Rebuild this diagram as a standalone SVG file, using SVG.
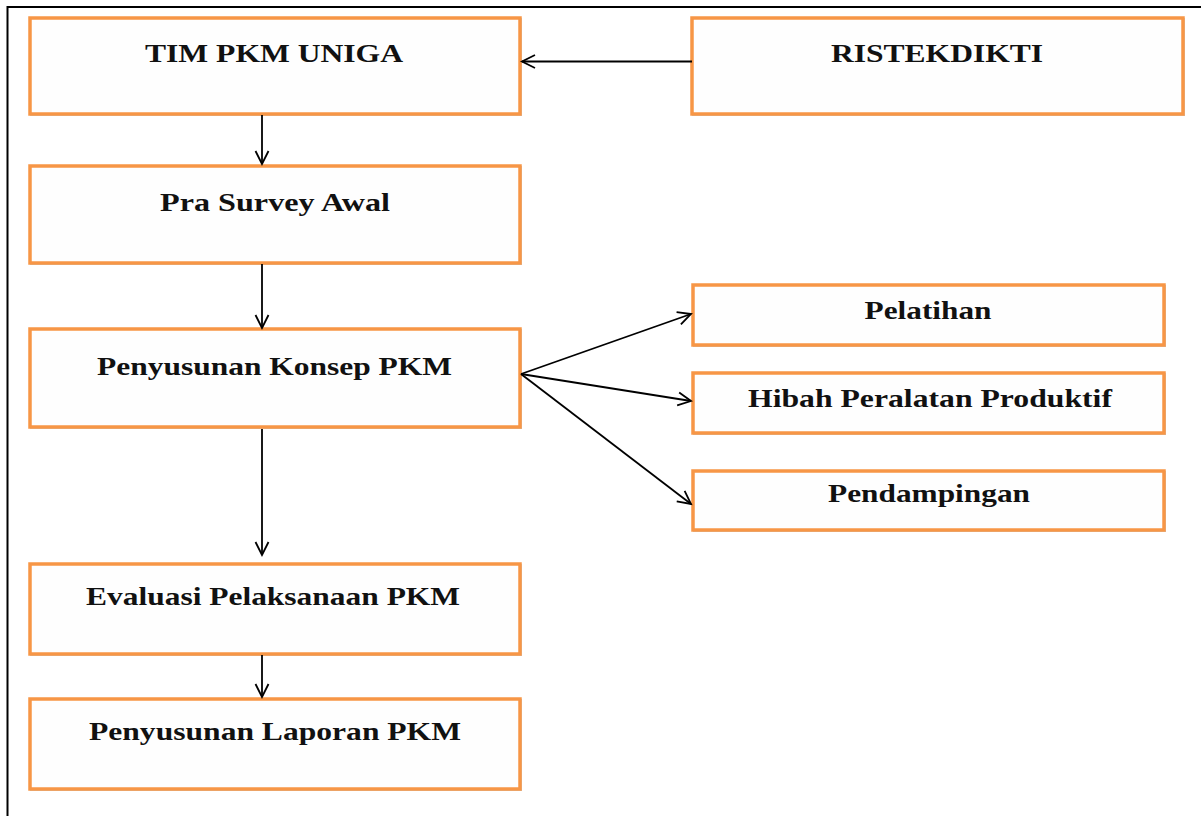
<svg xmlns="http://www.w3.org/2000/svg" width="1201" height="816" viewBox="0 0 1201 816">
<style>
.box{fill:#fefefe;stroke:#F79646;stroke-width:3.5}
.sh{fill:none;stroke:#c8c8c8;stroke-width:2}
.lbl{font-family:"Liberation Serif","Times New Roman",serif;font-weight:bold;font-size:25.5px;fill:#111;text-anchor:middle}
.conn{fill:none;stroke:#000;stroke-width:1.8}
</style>
<defs>
<marker id="arr" markerUnits="userSpaceOnUse" markerWidth="18" markerHeight="18" refX="14" refY="8" orient="auto">
<path d="M1,1.5 L14,8 L1,14.5" fill="none" stroke="#000" stroke-width="1.8"/>
</marker>
</defs>
<rect width="1201" height="816" fill="#fff"/>
<path d="M7.5,816 V7 H1201" fill="none" stroke="#000" stroke-width="2"/>

<g id="n-tim">
<rect class="sh" x="31" y="19" width="490" height="96"/>
<rect class="box" x="30" y="18" width="490" height="96"/>
<text class="lbl" x="274" y="62" textLength="258" lengthAdjust="spacingAndGlyphs">TIM PKM UNIGA</text>
</g>
<g id="n-ristek">
<rect class="sh" x="693" y="19" width="491" height="96"/>
<rect class="box" x="692" y="18" width="491" height="96"/>
<text class="lbl" x="937" y="62" textLength="212" lengthAdjust="spacingAndGlyphs">RISTEKDIKTI</text>
</g>
<g id="n-pra">
<rect class="sh" x="31" y="167" width="490" height="97"/>
<rect class="box" x="30" y="166" width="490" height="97"/>
<text class="lbl" x="275" y="211" textLength="230" lengthAdjust="spacingAndGlyphs">Pra Survey Awal</text>
</g>
<g id="n-konsep">
<rect class="sh" x="31" y="330" width="490" height="98"/>
<rect class="box" x="30" y="329" width="490" height="98"/>
<text class="lbl" x="274.5" y="375" textLength="355" lengthAdjust="spacingAndGlyphs">Penyusunan Konsep PKM</text>
</g>
<g id="n-evaluasi">
<rect class="sh" x="31" y="565" width="490" height="90"/>
<rect class="box" x="30" y="564" width="490" height="90"/>
<text class="lbl" x="273" y="605" textLength="374" lengthAdjust="spacingAndGlyphs">Evaluasi Pelaksanaan PKM</text>
</g>
<g id="n-laporan">
<rect class="sh" x="31" y="700" width="490" height="90"/>
<rect class="box" x="30" y="699" width="490" height="90"/>
<text class="lbl" x="275" y="740" textLength="372" lengthAdjust="spacingAndGlyphs">Penyusunan Laporan PKM</text>
</g>
<g id="n-pelatihan">
<rect class="sh" x="694" y="286" width="471" height="60"/>
<rect class="box" x="693" y="285" width="471" height="60"/>
<text class="lbl" x="928" y="319" textLength="127" lengthAdjust="spacingAndGlyphs">Pelatihan</text>
</g>
<g id="n-hibah">
<rect class="sh" x="694" y="374" width="471" height="60"/>
<rect class="box" x="693" y="373" width="471" height="60"/>
<text class="lbl" x="930" y="407" textLength="364" lengthAdjust="spacingAndGlyphs">Hibah Peralatan Produktif</text>
</g>
<g id="n-pendampingan">
<rect class="sh" x="694" y="472" width="471" height="59"/>
<rect class="box" x="693" y="471" width="471" height="59"/>
<text class="lbl" x="929" y="502" textLength="202" lengthAdjust="spacingAndGlyphs">Pendampingan</text>
</g>

<g id="connectors">
<line class="conn" x1="692" y1="61.5" x2="522" y2="61.5" marker-end="url(#arr)"/>
<line class="conn" x1="262" y1="115" x2="262" y2="164" marker-end="url(#arr)"/>
<line class="conn" x1="262" y1="264" x2="262" y2="328" marker-end="url(#arr)"/>
<line class="conn" x1="262" y1="429" x2="262" y2="555" marker-end="url(#arr)"/>
<line class="conn" x1="262" y1="655" x2="262" y2="697" marker-end="url(#arr)"/>
<line class="conn" x1="521" y1="374" x2="691" y2="314" marker-end="url(#arr)"/>
<line class="conn" x1="521" y1="374" x2="691" y2="401" marker-end="url(#arr)"/>
<line class="conn" x1="521" y1="374" x2="691" y2="504" marker-end="url(#arr)"/>
</g>
</svg>
